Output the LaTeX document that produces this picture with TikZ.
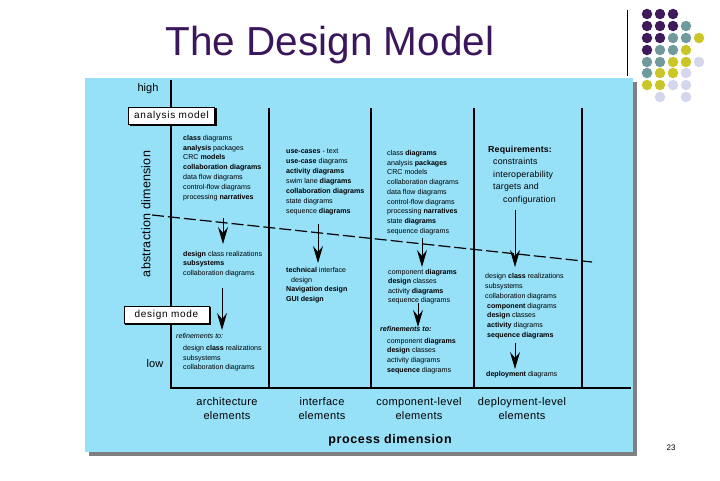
\documentclass[tikz,border=0pt]{standalone}
\usepackage{fontspec}
\setmainfont{Liberation Sans}
\usetikzlibrary{arrows.meta}
\definecolor{panel}{RGB}{150,224,248}
\definecolor{shadowgray}{RGB}{128,128,128}
\definecolor{ttl}{RGB}{58,22,92}
\definecolor{dpur}{RGB}{62,26,92}
\definecolor{dteal}{RGB}{112,154,156}
\definecolor{dyel}{RGB}{202,198,40}
\definecolor{dlav}{RGB}{212,214,238}
\begin{document}
\begin{tikzpicture}[x=1pt,y=-1pt,
  txt/.style={anchor=north west, inner sep=0pt, align=left, font=\fontsize{7.1}{9.8}\selectfont},
  big/.style={anchor=north west, inner sep=0pt, align=left, font=\fontsize{8.8}{12.4}\selectfont\addfontfeature{LetterSpace=2}},
  bot/.style={inner sep=0pt, align=center, font=\fontsize{11}{14}\selectfont\addfontfeature{LetterSpace=3}},
  lbl/.style={draw=black, line width=0.7pt, fill=white, inner sep=0pt, minimum height=17pt,
     font=\fontsize{10}{12}\selectfont\addfontfeature{LetterSpace=7}},
  sep/.style={line width=1.2pt},
  down/.style={line width=0.9pt, -{Stealth[length=17pt, width=10pt, inset=6pt]}},
  dot/.style={circle, minimum size=10.5pt, inner sep=0pt}
]
\useasboundingbox (0,0) rectangle (720,480);
% title
\node[anchor=base, inner sep=0pt, text=ttl, font=\fontsize{40.5}{44}\selectfont] (title) at (330,55) {The Design Model};
% top-right rule
\coordinate (rt) at (627,10);
\coordinate (rb) at (627,76);
\draw[line width=1pt] (rt) -- (rb);
% dots
\foreach \c/\x/\y in {dpur/647/14, dpur/660/14, dpur/673/14,
  dpur/647/26, dpur/660/26, dpur/673/26, dteal/686/26,
  dpur/647/38, dpur/660/38, dteal/673/38, dteal/686/38, dyel/699/38,
  dpur/647/50, dteal/660/50, dteal/673/50, dyel/686/50,
  dteal/647/62, dteal/660/62, dyel/673/62, dyel/686/62, dlav/699/62,
  dteal/647/73, dyel/660/73, dyel/673/73, dlav/686/73,
  dyel/647/85, dyel/660/85, dlav/673/85, dlav/686/85,
  dlav/660/97, dlav/686/97}
  \node[dot, fill=\c] at (\x,\y) {};
% panel
\fill[shadowgray] (89,82) rectangle (637,456);
\fill[panel] (85,78) rectangle (633,452);
% axes
\coordinate (top) at (171,80);
\coordinate (origin) at (171,388);
\coordinate (xend) at (631,388);
\draw[line width=1.4pt] (top) -- (origin) -- (xend);
% column separators
\foreach \n/\x in {s1/269, s2/371, s3/474, s4/582}{
  \coordinate (\n t) at (\x,108);
  \coordinate (\n b) at (\x,388);
  \draw[sep] (\n t) -- (\n b);
}
% high / low
\node[font=\fontsize{11}{12}\selectfont, inner sep=0pt] (high) at (148,89) {high};
\node[font=\fontsize{11}{12}\selectfont, inner sep=0pt] (low) at (155,364) {low};
% abstraction dimension
\node[rotate=90, inner sep=0pt, font=\fontsize{12.5}{14}\selectfont\addfontfeature{LetterSpace=2}] (absdim) at (146,214) {abstraction dimension};
% label boxes
\fill[black] (130,108) rectangle (217,126);
\node[lbl, minimum width=86pt] (am) at (171.5,115.5) {analysis model};
\fill[black] (125,307) rectangle (211,325);
\node[lbl, minimum width=85pt] (dm) at (166.5,314.5) {design mode};
% dashed line
\coordinate (d0) at (152,215);
\coordinate (d1) at (592,262);
\draw[line width=1.2pt, dash pattern=on 12pt off 4pt] (d0) -- (d1);
% column 1
\node[txt] (c1a) at (183,135) {\textbf{class} diagrams\\\textbf{analysis} packages\\CRC \textbf{models}\\\textbf{collaboration diagrams}\\data flow diagrams\\control-flow diagrams\\processing \textbf{narratives}};
\node[txt, font=\fontsize{7.1}{9.5}\selectfont] (c1b) at (183,251) {\textbf{design} class realizations\\\textbf{subsystems}\\collaboration diagrams};
\node[txt, font=\fontsize{7.1}{9.5}\selectfont\itshape] (c1r) at (176,333) {refinements to:};
\node[txt, font=\fontsize{7.1}{9.8}\selectfont] (c1c) at (183,345) {design \textbf{class} realizations\\subsystems\\collaboration diagrams};
% column 2
\node[txt, font=\fontsize{7.1}{10}\selectfont] (c2a) at (286,149) {\textbf{use-cases} - text\\\textbf{use-case} diagrams\\\textbf{activity diagrams}\\swim lane \textbf{diagrams}\\\textbf{collaboration diagrams}\\state diagrams\\sequence \textbf{diagrams}};
\node[txt, font=\fontsize{7.1}{9.8}\selectfont] (c2b) at (286,267) {\textbf{technical} interface\\\hspace*{5pt}design\\\textbf{Navigation design}\\\textbf{GUI design}};
% column 3
\node[txt, font=\fontsize{7.1}{9.75}\selectfont] (c3a) at (387,150) {class \textbf{diagrams}\\analysis \textbf{packages}\\CRC models\\collaboration diagrams\\data flow diagrams\\control-flow diagrams\\processing \textbf{narratives}\\state \textbf{diagrams}\\sequence diagrams};
\node[txt, font=\fontsize{7.1}{9.5}\selectfont] (c3b) at (388,269) {component \textbf{diagrams}\\\textbf{design} classes\\activity \textbf{diagrams}\\sequence diagrams};
\node[txt, font=\fontsize{7.1}{9.5}\selectfont\itshape\bfseries] (c3r) at (380,326) {refinements to:};
\node[txt, font=\fontsize{7.1}{9.6}\selectfont] (c3c) at (387,338) {component \textbf{diagrams}\\\textbf{design} classes\\activity diagrams\\\textbf{sequence} diagrams};
% column 4
\node[big] (c4a) at (488,146) {\textbf{Requirements:}\\\hspace*{5pt}constraints\\\hspace*{5pt}interoperability\\\hspace*{5pt}targets and\\\hspace*{15pt}configuration};
\node[txt, font=\fontsize{7.1}{9.9}\selectfont] (c4b) at (485,273) {design \textbf{class} realizations\\subsystems\\collaboration diagrams\\\hspace*{2pt}\textbf{component} diagrams\\\hspace*{2pt}\textbf{design} classes\\\hspace*{2pt}\textbf{activity} diagrams\\\hspace*{2pt}\textbf{sequence diagrams}};
\node[txt] (c4c) at (486,371) {\textbf{deployment} diagrams};
% arrows
\coordinate (a1s) at (223,218); \coordinate (a1e) at (223,244);
\coordinate (a2s) at (222,288); \coordinate (a2e) at (222,330);
\coordinate (a3s) at (318,224); \coordinate (a3e) at (318,263);
\coordinate (a4s) at (422,238); \coordinate (a4e) at (422,267);
\coordinate (a5s) at (418,303); \coordinate (a5e) at (418,327);
\coordinate (a6s) at (515,210); \coordinate (a6e) at (515,267);
\coordinate (a7s) at (515,343); \coordinate (a7e) at (515,369);
\foreach \i in {1,...,7} \draw[down] (a\i s) -- (a\i e);
% bottom labels
\node[bot] (b1) at (227,409) {architecture\\elements};
\node[bot] (b2) at (322,409) {interface\\elements};
\node[bot] (b3) at (419,409) {component-level\\elements};
\node[bot] (b4) at (522,409) {deployment-level\\elements};
\node[inner sep=0pt, font=\fontsize{12.5}{14}\selectfont\bfseries\addfontfeature{LetterSpace=5}] (pd) at (390,440) {process dimension};
% page number
\node[inner sep=0pt, font=\fontsize{8}{9}\selectfont] (pg) at (671,448) {23};
\end{tikzpicture}
\end{document}
